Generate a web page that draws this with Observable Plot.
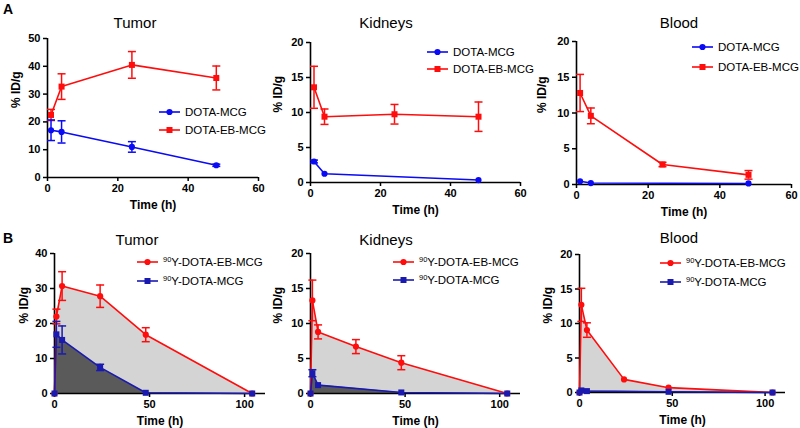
<!DOCTYPE html>
<html>
<head>
<meta charset="utf-8">
<script src="https://cdn.jsdelivr.net/npm/d3@7"></script>
<script src="https://cdn.jsdelivr.net/npm/@observablehq/plot@0.6"></script>
<style>
  body { margin: 0; background: #fff; }
  #root { position: relative; width: 800px; height: 428px; overflow: hidden; font-family: "Liberation Sans", Arial, sans-serif; color: #000; }
  .panel { position: absolute; }
  .title { position: absolute; font-size: 15px; transform: translate(-50%, -50%); white-space: nowrap; }
  .letter { position: absolute; font-weight: bold; font-size: 14px; }
  .legrow { position: absolute; height: 16px; display: flex; align-items: center; font-size: 11.5px; white-space: nowrap; }
  .legrow svg { display: block; flex: none; }
  .legrow sup { font-size: 7.5px; vertical-align: 0; position: relative; top: -4px; }
</style>
</head>
<body>
<div id="root"></div>
<script>
// ---------- data ----------
const timesA = [1, 4, 24, 48];
const timesA3 = [1, 4, 48];
const timesB = [0, 1, 4, 24, 48, 104];
const timesB5 = [0, 1, 4, 48, 104];

const ticksX_A = [0, 20, 40, 60];
const ticksX_B = [0, 50, 100];
const ticksY_50 = [0, 10, 20, 30, 40, 50];
const ticksY_40 = [0, 10, 20, 30, 40];
const ticksY_20 = [0, 5, 10, 15, 20];

// A: Tumor
const aTumorMCG = [17.0, 16.4, 11.0, 4.4];
const aTumorMCGsd = [3.7, 4.0, 1.9, 0.4];
const aTumorEB = [22.5, 32.7, 40.5, 35.8];
const aTumorEBsd = [2.0, 4.6, 4.8, 4.3];
// A: Kidneys
const aKidneyMCG = [3.0, 1.25, 0.35];
const aKidneyMCGsd = [0.2, 0.1, 0.1];
const aKidneyEB = [13.6, 9.4, 9.75, 9.4];
const aKidneyEBsd = [3.0, 1.1, 1.4, 2.1];
// A: Blood
const aBloodMCG = [0.45, 0.2, 0.15];
const aBloodMCGsd = [0.1, 0.05, 0.05];
const aBloodEB = [12.8, 9.6, 2.8, 1.35];
const aBloodEBsd = [2.6, 1.1, 0.3, 0.6];

// B: Tumor
const bTumorEB = [0, 22.0, 30.7, 27.8, 16.8, 0];
const bTumorEBsd = [0, 2.1, 4.1, 3.2, 2.0, 0];
const bTumorMCG = [0, 16.9, 15.3, 7.45, 0.2, 0];
const bTumorMCGsd = [0, 3.7, 4.0, 0.9, 0, 0];
// B: Kidneys
const bKidneyEB = [0, 13.3, 8.8, 6.7, 4.4, 0];
const bKidneyEBsd = [0, 2.9, 1.0, 1.0, 1.0, 0];
const bKidneyMCG = [0, 2.9, 1.2, 0.15, 0];
const bKidneyMCGsd = [0, 0.5, 0.1, 0, 0];
// B: Blood
const bBloodEB = [0, 12.7, 9.05, 1.9, 0.7, 0];
const bBloodEBsd = [0, 2.4, 1.05, 0.15, 0.15, 0];
const bBloodMCG = [0, 0.3, 0.2, 0.1, 0];
const bBloodMCGsd = [0, 0.1, 0, 0, 0];

const labelA1 = "DOTA-MCG";
const labelA2 = "DOTA-EB-MCG";
const labelB1 = "<sup>90</sup>Y-DOTA-EB-MCG";
const labelB2 = "<sup>90</sup>Y-DOTA-MCG";

// ---------- style ----------
const RED = "#ff0d0d";
const BLUE_A = "#0a0af5";
const BLUE_B = "#1a1ab0";
const LIGHT = "#d4d4d4";
const DARK = "#5a5a5a";
const FONT = "Liberation Sans, Arial, sans-serif";

const capSymbol = {
  draw(ctx, size) {
    const w = Math.sqrt(size / Math.PI);
    ctx.moveTo(-w, 0);
    ctx.lineTo(w, 0);
  }
};

function rows(times, vals, sds) {
  return times.map((t, i) => ({ t, v: vals[i], sd: sds[i] }));
}

function seriesMarks(data, color, symbol) {
  const err = data.filter(d => d.sd >= 0.2);
  return [
    Plot.ruleX(err, { x: "t", y1: d => d.v - d.sd, y2: d => d.v + d.sd, stroke: color, strokeWidth: 1.5 }),
    Plot.dot(err, { x: "t", y: d => d.v + d.sd, symbol: capSymbol, r: 4, stroke: color, strokeWidth: 1.5, fill: "none" }),
    Plot.dot(err, { x: "t", y: d => d.v - d.sd, symbol: capSymbol, r: 4, stroke: color, strokeWidth: 1.5, fill: "none" }),
    Plot.line(data, { x: "t", y: "v", stroke: color, strokeWidth: 1.6 }),
    Plot.dot(data, { x: "t", y: "v", symbol, r: symbol === "square" ? 3.4 : 3.1, fill: color, stroke: "none" })
  ];
}

const root = document.getElementById("root");

function panel(cfg) {
  const marks = [];
  if (cfg.areas) {
    for (const a of cfg.areas) marks.push(Plot.areaY(a.data, { x: "t", y: "v", fill: a.fill }));
  }
  marks.push(
    Plot.ruleX([0], { stroke: "#000", strokeWidth: 1.6 }),
    Plot.ruleY([0], { stroke: "#000", strokeWidth: 1.6 }),
    Plot.axisX({ ticks: cfg.xTicks, tickSize: 4, tickPadding: 3, strokeWidth: 1.5, label: null,
      fontSize: 11, fontWeight: "bold", fontFamily: FONT }),
    Plot.axisY({ ticks: cfg.yTicks, tickSize: 4, tickPadding: 3, strokeWidth: 1.5, label: null,
      fontSize: 11, fontWeight: "bold", fontFamily: FONT }),
    Plot.text(["Time (h)"], { frameAnchor: "bottom", dy: 28, lineAnchor: "middle",
      fontSize: 12, fontWeight: "bold", fontFamily: FONT, fill: "#000" }),
    Plot.text(["% ID/g"], { frameAnchor: "left", dx: cfg.yLabelDx, rotate: -90, lineAnchor: "middle",
      fontSize: 12, fontWeight: "bold", fontFamily: FONT, fill: "#000" })
  );
  for (const s of cfg.series) marks.push(...seriesMarks(s.data, s.color, s.symbol));

  const svg = Plot.plot({
    width: cfg.w, height: cfg.h,
    marginLeft: cfg.m[0], marginRight: cfg.m[1], marginTop: cfg.m[2], marginBottom: cfg.m[3],
    style: { background: "transparent", overflow: "visible", fontFamily: FONT, color: "#000" },
    x: { domain: cfg.xDomain },
    y: { domain: cfg.yDomain },
    marks
  });
  const div = document.createElement("div");
  div.className = "panel";
  div.style.left = cfg.left + "px";
  div.style.top = cfg.top + "px";
  div.appendChild(svg);
  root.appendChild(div);

  const t = document.createElement("div");
  t.className = "title";
  t.textContent = cfg.title;
  t.style.left = cfg.titleX + "px";
  t.style.top = cfg.titleY + "px";
  root.appendChild(t);

  for (const r of cfg.legend.rows) {
    const row = document.createElement("div");
    row.className = "legrow";
    row.style.left = cfg.legend.x + "px";
    row.style.top = (r.y - 8) + "px";
    const mk = r.symbol === "square"
      ? `<rect x="7.5" y="5" width="6" height="6" fill="${r.color}"/>`
      : `<circle cx="10.5" cy="8" r="3.1" fill="${r.color}"/>`;
    row.innerHTML = `<svg width="26" height="16"><line x1="0" y1="8" x2="21" y2="8" stroke="${r.color}" stroke-width="1.6"/>${mk}</svg><span>${r.text}</span>`;
    root.appendChild(row);
  }
}

// ---------- panels A ----------
const aTumor1 = rows(timesA, aTumorMCG, aTumorMCGsd), aTumor2 = rows(timesA, aTumorEB, aTumorEBsd);
panel({ left: 0, top: 0, w: 265, h: 215, m: [47, 7, 38, 38], xDomain: [0, 60], yDomain: [0, 50],
  xTicks: ticksX_A, yTicks: ticksY_50, yLabelDx: -31, title: "Tumor", titleX: 135, titleY: 22,
  series: [ { data: aTumor2, color: RED, symbol: "square" }, { data: aTumor1, color: BLUE_A, symbol: "circle" } ],
  legend: { x: 159, rows: [ { y: 112, color: BLUE_A, symbol: "circle", text: labelA1 }, { y: 129.5, color: RED, symbol: "square", text: labelA2 } ] } });

const aKid1 = rows(timesA3, aKidneyMCG, aKidneyMCGsd), aKid2 = rows(timesA, aKidneyEB, aKidneyEBsd);
panel({ left: 265, top: 0, w: 265, h: 215, m: [45, 10, 42, 33], xDomain: [0, 60], yDomain: [0, 20],
  xTicks: ticksX_A, yTicks: ticksY_20, yLabelDx: -32, title: "Kidneys", titleX: 386, titleY: 22,
  series: [ { data: aKid2, color: RED, symbol: "square" }, { data: aKid1, color: BLUE_A, symbol: "circle" } ],
  legend: { x: 427, rows: [ { y: 51.7, color: BLUE_A, symbol: "circle", text: labelA1 }, { y: 69.3, color: RED, symbol: "square", text: labelA2 } ] } });

const aBl1 = rows(timesA3, aBloodMCG, aBloodMCGsd), aBl2 = rows(timesA, aBloodEB, aBloodEBsd);
panel({ left: 530, top: 0, w: 270, h: 215, m: [46, 9, 41, 31], xDomain: [0, 60], yDomain: [0, 20],
  xTicks: ticksX_A, yTicks: ticksY_20, yLabelDx: -34, title: "Blood", titleX: 679, titleY: 22,
  series: [ { data: aBl2, color: RED, symbol: "square" }, { data: aBl1, color: BLUE_A, symbol: "circle" } ],
  legend: { x: 692, rows: [ { y: 47.3, color: BLUE_A, symbol: "circle", text: labelA1 }, { y: 66.7, color: RED, symbol: "square", text: labelA2 } ] } });

// ---------- panels B ----------
const bTu1 = rows(timesB, bTumorEB, bTumorEBsd), bTu2 = rows(timesB, bTumorMCG, bTumorMCGsd);
panel({ left: 0, top: 215, w: 270, h: 213, m: [54, 5, 38, 35], xDomain: [0, 111], yDomain: [0, 40],
  xTicks: ticksX_B, yTicks: ticksY_40, yLabelDx: -30, title: "Tumor", titleX: 137, titleY: 239,
  areas: [ { data: bTu1, fill: LIGHT }, { data: bTu2, fill: DARK } ],
  series: [ { data: bTu1, color: RED, symbol: "circle" }, { data: bTu2, color: BLUE_B, symbol: "square" } ],
  legend: { x: 137, rows: [ { y: 261.7, color: RED, symbol: "circle", text: labelB1 }, { y: 280.7, color: BLUE_B, symbol: "square", text: labelB2 } ] } });

const bK1 = rows(timesB, bKidneyEB, bKidneyEBsd), bK2 = rows(timesB5, bKidneyMCG, bKidneyMCGsd);
panel({ left: 265, top: 215, w: 265, h: 213, m: [45, 10, 38, 35], xDomain: [0, 111], yDomain: [0, 20],
  xTicks: ticksX_B, yTicks: ticksY_20, yLabelDx: -32, title: "Kidneys", titleX: 386, titleY: 239,
  areas: [ { data: bK1, fill: LIGHT }, { data: bK2, fill: DARK } ],
  series: [ { data: bK1, color: RED, symbol: "circle" }, { data: bK2, color: BLUE_B, symbol: "square" } ],
  legend: { x: 393, rows: [ { y: 261.7, color: RED, symbol: "circle", text: labelB1 }, { y: 280, color: BLUE_B, symbol: "square", text: labelB2 } ] } });

const bB1 = rows(timesB, bBloodEB, bBloodEBsd), bB2 = rows(timesB5, bBloodMCG, bBloodMCGsd);
panel({ left: 530, top: 215, w: 270, h: 213, m: [49, 15, 39, 36], xDomain: [0, 111], yDomain: [0, 20],
  xTicks: ticksX_B, yTicks: ticksY_20, yLabelDx: -31, title: "Blood", titleX: 679, titleY: 237,
  areas: [ { data: bB1, fill: LIGHT }, { data: bB2, fill: DARK } ],
  series: [ { data: bB1, color: RED, symbol: "circle" }, { data: bB2, color: BLUE_B, symbol: "square" } ],
  legend: { x: 660, rows: [ { y: 262.7, color: RED, symbol: "circle", text: labelB1 }, { y: 282.3, color: BLUE_B, symbol: "square", text: labelB2 } ] } });

// panel letters
for (const [txt, x, y] of [["A", 3, 1], ["B", 3, 230]]) {
  const d = document.createElement("div");
  d.className = "letter";
  d.textContent = txt;
  d.style.left = x + "px";
  d.style.top = y + "px";
  root.appendChild(d);
}
</script>
</body>
</html>
